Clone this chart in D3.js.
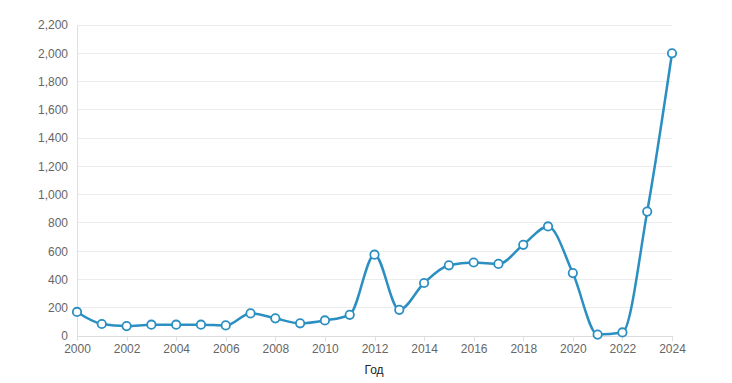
<!DOCTYPE html>
<html><head><meta charset="utf-8">
<script src="https://cdn.jsdelivr.net/npm/d3@7"></script>
<style>body{margin:0;background:#fff;}svg{display:block;font-family:"Liberation Sans",Arial,Helvetica,sans-serif;}</style>
</head><body>
<svg id="chart" width="732" height="383"></svg>
<script>
const years = [2000,2001,2002,2003,2004,2005,2006,2007,2008,2009,2010,2011,2012,2013,2014,2015,2016,2017,2018,2019,2020,2021,2022,2023,2024];
const values = [170,85,70,80,80,80,75,160,125,90,110,150,575,185,375,500,520,510,645,775,445,10,25,880,2000];
const yTicks = [0,200,400,600,800,1000,1200,1400,1600,1800,2000,2200];
const xTicks = [2000,2002,2004,2006,2008,2010,2012,2014,2016,2018,2020,2022,2024];
const xTitle = "Год";

(function(){
const svg = d3.select("#chart");
const mL = 77, mR = 672, mT = 25, mB = 336;
const x = d3.scaleLinear().domain([2000,2024]).range([mL,mR]);
const y = d3.scaleLinear().domain([0,2200]).range([mB,mT]);
const fmt = d3.format(",");

// grid
svg.append("g").selectAll("line").data(yTicks.filter(d=>d>0)).join("line")
  .attr("x1",mL).attr("x2",mR).attr("y1",d=>y(d)).attr("y2",d=>y(d))
  .attr("stroke","#ececec").attr("stroke-width",1).attr("shape-rendering","crispEdges");

// y axis
const ya = svg.append("g").attr("transform",`translate(${mL},0)`)
  .call(d3.axisLeft(y).tickValues(yTicks).tickFormat(fmt).tickSize(0).tickPadding(9));
ya.select(".domain").attr("stroke","#e0e0e0").attr("shape-rendering","crispEdges");
ya.selectAll("text").attr("fill","#666").attr("font-size","12px");

// x axis
const xa = svg.append("g").attr("transform",`translate(0,${mB})`)
  .call(d3.axisBottom(x).tickValues(xTicks).tickFormat(d3.format("d")).tickSize(5).tickPadding(3).tickSizeOuter(0));
xa.select(".domain").attr("stroke","#dcdcdc").attr("shape-rendering","crispEdges");
xa.selectAll(".tick line").attr("stroke","#e0e0e0").attr("shape-rendering","crispEdges");
xa.selectAll("text").attr("fill","#666").attr("font-size","12px");

svg.append("text").attr("x",374).attr("y",374).attr("text-anchor","middle")
  .attr("font-size","12px").attr("fill","#222").text(xTitle);

const data = years.map((yr,i)=>({yr, v: values[i]}));
const line = d3.line().x(d=>x(d.yr)).y(d=>y(d.v)).curve(d3.curveMonotoneX);
const col = "#2b8fc2";
svg.append("path").datum(data).attr("d",line).attr("fill","none")
  .attr("stroke",col).attr("stroke-width",2.5).attr("stroke-linejoin","round");

svg.append("g").selectAll("circle").data(data).join("circle")
  .attr("cx",d=>x(d.yr)).attr("cy",d=>y(d.v)).attr("r",4.2)
  .attr("fill","#fff").attr("stroke",col).attr("stroke-width",1.8);
})();
</script>
</body></html>
